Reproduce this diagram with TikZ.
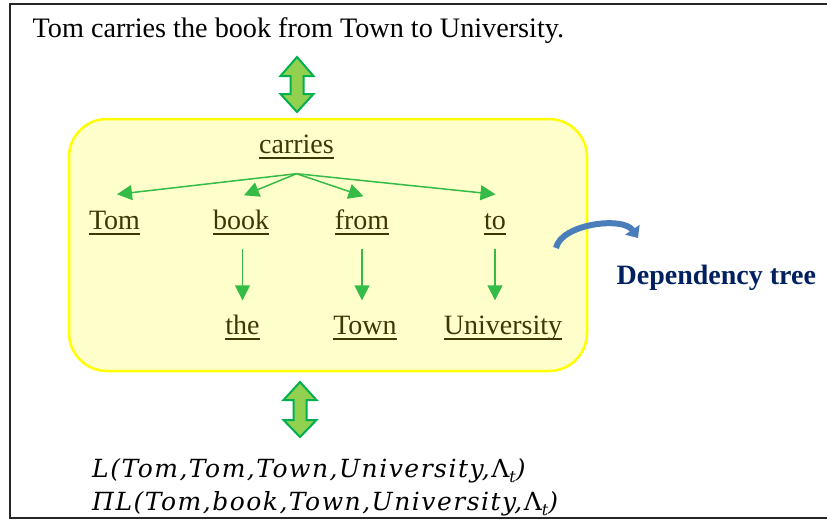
\documentclass[tikz,border=0pt]{standalone}
\usepackage{fontspec}
\setmainfont{Liberation Serif}
\newfontfamily\formfont[LetterSpace=6]{DejaVu Serif}
\usetikzlibrary{arrows.meta}

\definecolor{wordcol}{RGB}{62,54,6}
\definecolor{treegreen}{RGB}{52,188,70}
\definecolor{boxfill}{RGB}{255,255,204}
\definecolor{boxline}{RGB}{255,255,0}
\definecolor{dblfill}{RGB}{146,208,80}
\definecolor{dblline}{RGB}{0,176,80}
\definecolor{arcblue}{RGB}{74,126,187}
\definecolor{navy}{RGB}{0,32,96}

% word with a flat underline at a fixed depth
\newcommand\ulword[1]{\setbox0\hbox{#1}\rlap{\rule[-5.6pt]{\wd0}{1.9pt}}\box0}
% subscripted Lambda for the formulas
\newcommand\lamt{\textup{Λ}\raisebox{-5pt}{\fontsize{16}{16}\selectfont\itshape t}}

\tikzset{
  word/.style={anchor=base, inner sep=0pt, text height=20pt, text depth=6pt,
    font=\fontsize{28}{32}\selectfont, text=wordcol},
  treearrow/.style={draw=treegreen, line width=1.5pt,
    -{Triangle[length=15pt,width=15pt]}},
  dblarrow/.style={draw=dblline, fill=dblfill, line width=2pt, line join=miter},
  formula/.style={anchor=base west, inner sep=0pt,
    font=\formfont\itshape\fontsize{25}{28}\selectfont}
}

\begin{document}
\begin{tikzpicture}[x=1pt, y=-1pt]
  \useasboundingbox (0,0) rectangle (827,520);
  \clip (0,0) rectangle (827,520);

  % outer frame, its right edge lies past the page
  \draw[line width=2pt, draw=black!85] (10,4) rectangle (845,518);

  % sentence
  \node[anchor=base west, inner sep=0pt, font=\fontsize{28.2}{32}\selectfont]
    (sentence) at (32.5,37.5) {Tom carries the book from Town to University.};

  % double arrows
  \draw[dblarrow] (297,57) -- (313.5,76) -- (303.5,76) -- (303.5,94) -- (313.5,94)
    -- (297,112) -- (280.5,94) -- (290.5,94) -- (290.5,76) -- (280.5,76) -- cycle;
  \draw[dblarrow] (300,382) -- (316.5,400) -- (306.5,400) -- (306.5,420) -- (316.5,420)
    -- (300,437) -- (283.5,420) -- (293.5,420) -- (293.5,400) -- (283.5,400) -- cycle;

  % tree panel
  \draw[draw=boxline, fill=boxfill, line width=2.5pt, rounded corners=38pt]
    (69,119) rectangle (587,371);

  % words of the tree
  \node[word] (carries) at (296.5,153.5) {\ulword{carries}};
  \node[word] (tom)  at (114.5,229.5) {\ulword{Tom}};
  \node[word] (book) at (241,229.5)   {\ulword{book}};
  \node[word] (from) at (362,229.5)   {\ulword{from}};
  \node[word] (to)   at (495,229.5)   {\ulword{to}};
  \node[word] (the)  at (242.5,334.5) {\ulword{the}};
  \node[word] (town) at (365,334.5)   {\ulword{Town}};
  \node[word] (univ) at (503,334.5)   {\ulword{University}};

  % dependency edges
  \coordinate (hub) at ([yshift=-14pt]carries.south);
  \draw[treearrow] (hub) -- ([xshift=2.5pt,yshift=15pt]tom.north);
  \draw[treearrow] (hub) -- ([xshift=3pt,yshift=14pt]book.north);
  \draw[treearrow] (hub) -- ([xshift=1.5pt,yshift=13pt]from.north);
  \draw[treearrow] (hub) -- ([xshift=0.5pt,yshift=15pt]to.north);
  \draw[treearrow, shorten <=13pt, shorten >=14pt] (book.south -| the.north) -- (the.north);
  \draw[treearrow, shorten <=13pt, shorten >=14pt] (from.south) -- (from.south |- town.north);
  \draw[treearrow, shorten <=13pt, shorten >=14pt] (to.south) -- (to.south |- univ.north);

  % curved pointer to the caption
  \node[anchor=base west, inner sep=0pt, font=\bfseries\fontsize{28}{32}\selectfont,
    text=navy] (caption) at (616.5,284) {Dependency tree};
  \coordinate (arcstart) at (556,248);
  \coordinate (arcend) at (638,238);
  \draw[draw=arcblue, line width=6pt, -{Triangle[length=10pt,width=17pt]}]
    (arcstart) .. controls (561,224) and (623,216) .. (arcend);

  % formulas
  \node[formula] (f1) at (92,477) {L(Tom,Tom,Town,University,\lamt)};
  \node[formula] (f2) at (92,510) {ΠL(Tom,book,Town,University,\lamt)};
\end{tikzpicture}
\end{document}
